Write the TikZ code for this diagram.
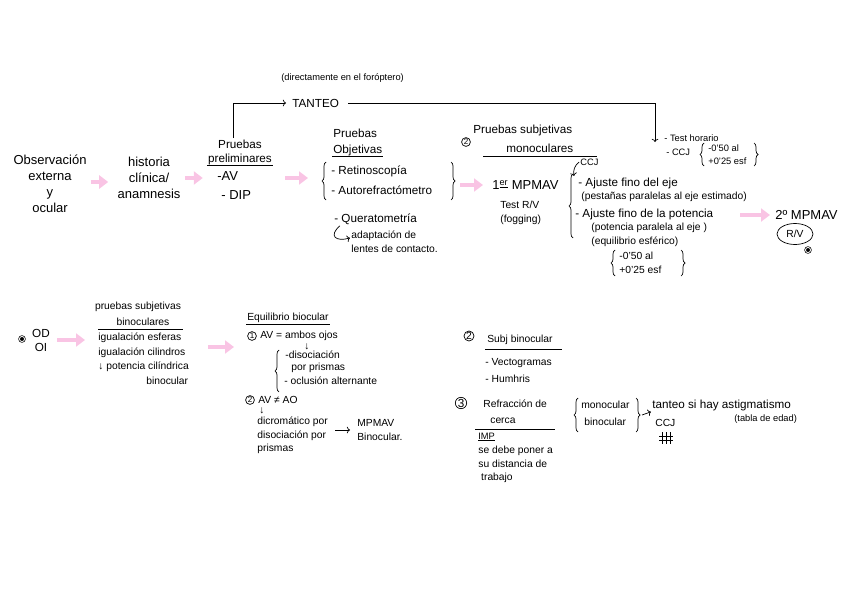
\documentclass[tikz,border=0pt]{standalone}
\usepackage{fontspec}
\setmainfont{Liberation Sans}
\usepackage{tikz}
\usetikzlibrary{arrows,arrows.meta,shapes,decorations.pathreplacing}
\definecolor{notepink}{RGB}{249,196,228}
\newcommand{\notebig}{\fontsize{13}{16}\selectfont}
\newcommand{\notemid}{\fontsize{11.7}{14}\selectfont}
\newcommand{\notesml}{\fontsize{10.3}{13.5}\selectfont}
\newcommand{\notetny}{\fontsize{9.3}{13}\selectfont}
\tikzset{
	pinkarrow/.style = {draw = notepink, line width = 4.5pt, -{Triangle[length = 9pt, width = 13pt]}},
	lbrace/.style = {decorate, decoration = {brace, amplitude = 4pt}},
	numcirc/.style = {draw, circle, inner sep = .6pt, font = \fontsize{8}{9}\selectfont},
	dotmark/.style = {draw, circle, inner sep = 1.8pt, fill = black, double, double distance = .8pt},
	txt/.style = {inner sep = 1pt, anchor = west}
}
\begin{document}
\begin{tikzpicture}[x = 1pt, y = -1pt, line width = .7pt]
	\useasboundingbox (0,0) rectangle (848,599);
	\node[inner sep = 1pt, align = center, font = \notebig] (obs) at (50,184) {Observación\\externa\\y\\ocular};
	\node[inner sep = 1pt, align = center, font = \notebig] (hist) at (149,178) {historia\\clínica/\\anamnesis};
	\node[inner sep = 1pt, align = center, font = \notemid] (prel) at (240,152) {Pruebas\\preliminares};
	\draw (prel.south west) -- (prel.south east);
	\node[txt, font = \notebig] (av) at (216,176) {-AV};
	\node[txt, font = \notebig] (dip) at (220,195) {- DIP};
	\node[txt, font = \notemid] (tanteo) at (291,103) {TANTEO};
	\node[txt, font = \notetny] (direct) at (280,78) {(directamente en el foróptero)};
	\coordinate (horac) at (655,142);
	\draw[->] ([xshift = -7pt]prel.north) |- ([xshift = -5pt]tanteo.west);
	\draw[->] ([xshift = 8pt]tanteo.east) -| (horac);
	\node[txt, font = \notetny] (horario) at (663,138) {- Test horario};
	\node[txt, font = \notetny] (ccjtop) at (665,152) {- CCJ};
	\node[txt, font = \notetny] (alA) at (707,148) {-0'50 al};
	\node[txt, font = \notetny] (esfA) at (707,161) {+0'25 esf};
	\draw[lbrace] (704,166) -- (704,143);
	\draw[lbrace] (754,143) -- (754,166);
	\node[txt, font = \notemid] (pruebas) at (332,133) {Pruebas};
	\node[txt, font = \notemid] (objet) at (332,150) {Objetivas};
	\draw (objet.south west) -- (objet.south east);
	\node[txt, font = \notemid] (retino) at (330,171) {- Retinoscopía};
	\node[txt, font = \notemid] (autoref) at (330,190) {- Autorefractómetro};
	\draw[lbrace] (326,200) -- (326,162);
	\draw[lbrace] (451,162) -- (451,200);
	\coordinate (objtip) at (460,185);
	\node[txt, font = \notemid] (querat) at (333,219) {- Queratometría};
	\node[inner sep = 1pt, anchor = north west, align = left, font = \notesml] (adapt) at (350,230) {adaptación de\\lentes de contacto.};
	\draw[->] ([xshift = 7pt]querat.south west) .. controls (328,236) and (336,242) .. ([yshift = 4pt]adapt.west);
	\node[numcirc] (two) at (466,142) {2};
	\node[txt, font = \notemid] (subj) at (472,130) {Pruebas subjetivas};
	\node[txt, font = \notemid] (monoc) at (505,148) {monoculares};
	\draw (483,156) -- (597,156);
	\node[txt, font = \notebig] (mpmav) at (491,185) {1\textsuperscript{\underline{er}} MPMAV};
	\node[txt, font = \notesml] (testrv) at (499,205) {Test R/V};
	\node[txt, font = \notesml] (fog) at (499,220) {(fogging)};
	\draw[lbrace] (573,238) -- (573,174);
	\node[txt, font = \notetny] (ccjmid) at (579,162) {CCJ};
	\draw[->] (ccjmid.west) to[bend right = 30] (574,176);
	\node[txt, font = \notemid] (ejeA) at (577,183) {- Ajuste fino del eje};
	\node[txt, font = \notesml] (ejeB) at (580,197) {(pestañas paralelas al eje estimado)};
	\node[txt, font = \notemid] (potA) at (574,214) {- Ajuste fino de la potencia};
	\node[txt, font = \notesml] (potB) at (590,228) {(potencia paralela al eje )};
	\node[txt, font = \notesml] (potC) at (590,242) {(equilibrio esférico)};
	\node[txt, font = \notesml] (alB) at (618,256) {-0'50 al};
	\node[txt, font = \notesml] (esfB) at (618,270) {+0'25 esf};
	\draw[lbrace] (615,276) -- (615,250);
	\draw[lbrace] (681,250) -- (681,276);
	\node[txt, font = \notebig] (mpmavB) at (774,215) {2º MPMAV};
	\node[draw, ellipse, minimum width = 36pt, minimum height = 21pt, inner sep = 0pt, font = \notesml] (rv) at (795,234) {R/V};
	\node[dotmark] (dotA) at (808,250) {};
	\draw[pinkarrow] (obs.east |- 0,182) ++(3,0) -- ([xshift = -8pt]hist.west |- 0,182);
	\draw[pinkarrow] ([xshift = 3pt]hist.east) -- ([xshift = -4pt]hist.east -| prel.west);
	\draw[pinkarrow] (285,178) -- ([xshift = -22pt]autoref.west |- 0,178);
	\draw[pinkarrow] (objtip) -- ([xshift = -8pt]objtip -| mpmav.west);
	\draw[pinkarrow] (740,215) -- ([xshift = -4pt]mpmavB.west);
	\node[dotmark] (dotB) at (22,339) {};
	\node[inner sep = 1pt, align = center, font = \notemid] (odoi) at (41,340) {OD\\OI};
	\node[inner sep = 1pt, font = \notesml] (pbin) at (138,307) {pruebas subjetivas};
	\node[inner sep = 1pt, font = \notesml] (binoc) at (143,322) {binoculares};
	\draw (98,329) -- (183,329);
	\node[txt, font = \notesml] (esfer) at (97,338) {igualación esferas};
	\node[txt, font = \notesml] (cilin) at (97,353) {igualación cilindros};
	\node[txt, font = \notesml] (potcil) at (97,367) {↓ potencia cilíndrica};
	\node[txt, font = \notesml] (binA) at (145,381) {binocular};
	\draw[pinkarrow] ([xshift = 6pt]odoi.east) -- ([xshift = -12pt]esfer.west |- odoi.east);
	\draw[pinkarrow] (208,347) -- (234,347);
	\node[txt, font = \notesml] (equil) at (246,318) {Equilibrio biocular};
	\draw (equil.south west) -- (equil.south east);
	\node[numcirc] (oneB) at (252,336) {1};
	\node[txt, font = \notesml] (ambos) at (259,336) {AV = ambos ojos};
	\node[font = \notesml, inner sep = 0pt] (downA) at (307,347) {↓};
	\draw[lbrace] (279,392) -- (279,350);
	\node[txt, font = \notesml] (disoc) at (284,355) {-disociación};
	\node[txt, font = \notesml] (prism) at (290,368) {por prismas};
	\node[txt, font = \notesml] (ocl) at (283,381) {- oclusión alternante};
	\node[numcirc] (twoB) at (250,400) {2};
	\node[txt, font = \notesml] (avao) at (257,400) {AV ≠ AO};
	\node[font = \notesml, inner sep = 0pt] (downB) at (262,411) {↓};
	\node[inner sep = 1pt, anchor = north west, align = left, font = \notesml] (dicro) at (256,416) {dicromático por\\disociación por\\prismas};
	\node[inner sep = 1pt, anchor = west, align = left, font = \notesml] (mpbin) at (356,430) {MPMAV\\Binocular.};
	\draw[->] ([xshift = 6pt]dicro.east |- mpbin.west) -- ([xshift = -6pt]mpbin.west);
	\node[numcirc, font = \notesml, inner sep = .3pt] (twoC) at (469,336) {2};
	\node[txt, font = \notesml] (sbin) at (486,340) {Subj binocular};
	\draw (485,349) -- (562,349);
	\node[txt, font = \notesml] (vecto) at (484,363) {- Vectogramas};
	\node[txt, font = \notesml] (humh) at (484,379) {- Humhris};
	\node[numcirc, font = \notemid, inner sep = .3pt] (three) at (461,403) {3};
	\node[txt, font = \notesml] (refr) at (482,404) {Refracción de};
	\node[txt, font = \notesml] (cerca) at (489,421) {cerca};
	\draw (475,429) -- (555,429);
	\node[txt, font = \notetny] (imp) at (477,437) {\underline{IMP}};
	\node[inner sep = 1pt, anchor = north west, align = left, font = \notesml] (dist) at (477,445) {se debe poner a\\su distancia de\\\ trabajo};
	\draw[lbrace] (578,432) -- (578,398);
	\node[txt, font = \notesml] (mono) at (580,405) {monocular};
	\node[txt, font = \notesml] (bino) at (583,422) {binocular};
	\draw[lbrace] (636,398) -- (636,432);
	\node[txt, font = \notemid] (tant) at (651,405) {tanteo si hay astigmatismo};
	\node[txt, font = \notetny] (tabla) at (733,419) {(tabla de edad)};
	\node[txt, font = \notesml] (ccjbot) at (654,423) {CCJ};
	\draw[->] (642,415) -- (tant.south west);
	\draw (659,436) -- (673,436) (659,440) -- (673,440) (662,432) -- (662,444) (666,432) -- (666,444) (670,432) -- (670,444);
\end{tikzpicture}
\end{document}
